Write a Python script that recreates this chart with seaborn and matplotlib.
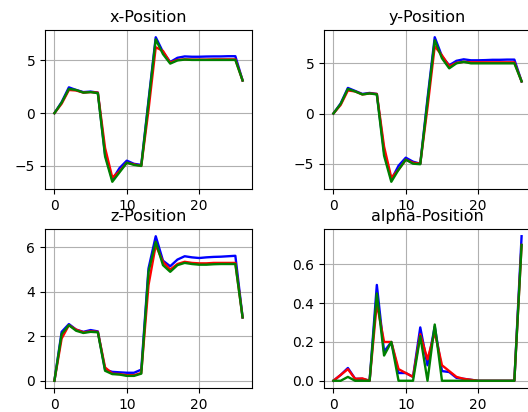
import numpy as np
import pandas as pd
import matplotlib
matplotlib.use("Agg")
import matplotlib.pyplot as plt
import seaborn as sns

frames = list(range(27))

# x-Position
x_blue = [0.0, 1.05, 2.45, 2.2, 2.0, 2.05, 1.95, -3.9, -6.3, -5.2, -4.5, -4.8, -4.9, 1.2, 7.2, 5.8, 4.85, 5.25, 5.38, 5.35, 5.35, 5.37, 5.38, 5.38, 5.4, 5.4, 3.1]
x_red = [0.0, 0.9, 2.2, 2.15, 1.95, 2.0, 1.95, -3.3, -6.1, -5.5, -4.7, -4.85, -5.0, 0.3, 6.25, 5.9, 4.8, 5.05, 5.1, 5.08, 5.08, 5.08, 5.1, 5.1, 5.1, 5.1, 3.1]
x_green = [0.0, 1.0, 2.3, 2.2, 1.95, 2.0, 1.9, -4.1, -6.5, -5.6, -4.7, -4.9, -5.0, 1.0, 7.0, 5.6, 4.7, 5.0, 5.08, 5.05, 5.05, 5.05, 5.05, 5.05, 5.05, 5.05, 3.1]

# y-Position
y_blue = [0.0, 1.0, 2.55, 2.25, 1.95, 2.05, 1.95, -3.8, -6.6, -5.2, -4.4, -4.8, -5.0, 1.5, 7.6, 5.7, 4.8, 5.25, 5.4, 5.3, 5.3, 5.32, 5.35, 5.35, 5.37, 5.37, 3.2]
y_red = [0.0, 0.85, 2.3, 2.2, 1.9, 2.0, 1.95, -3.3, -6.4, -5.6, -4.6, -4.9, -5.0, 0.6, 6.7, 5.8, 4.7, 5.05, 5.15, 5.1, 5.1, 5.1, 5.1, 5.1, 5.1, 5.1, 3.2]
y_green = [0.0, 0.95, 2.45, 2.2, 1.9, 2.0, 1.9, -4.2, -6.8, -5.6, -4.6, -5.0, -5.05, 1.2, 7.3, 5.5, 4.5, 5.0, 5.15, 5.0, 5.0, 5.0, 5.0, 5.0, 5.0, 5.0, 3.2]

# z-Position
z_blue = [0.0, 2.2, 2.55, 2.3, 2.2, 2.28, 2.22, 0.5, 0.4, 0.38, 0.36, 0.36, 0.5, 5.05, 6.5, 5.4, 5.15, 5.45, 5.6, 5.55, 5.52, 5.55, 5.57, 5.58, 5.6, 5.62, 2.85]
z_red = [0.0, 1.9, 2.5, 2.3, 2.18, 2.22, 2.2, 0.6, 0.32, 0.3, 0.25, 0.25, 0.35, 4.3, 6.1, 5.35, 5.0, 5.25, 5.35, 5.3, 5.28, 5.28, 5.3, 5.3, 5.3, 5.3, 2.85]
z_green = [0.0, 2.1, 2.5, 2.25, 2.15, 2.2, 2.18, 0.45, 0.3, 0.28, 0.22, 0.22, 0.32, 4.9, 6.25, 5.2, 4.9, 5.2, 5.3, 5.25, 5.22, 5.22, 5.24, 5.25, 5.25, 5.25, 2.85]

# alpha-Position
a_blue = [0.0, 0.03, 0.066, 0.01, 0.01, 0.0, 0.494, 0.15, 0.2, 0.04, 0.04, 0.02, 0.275, 0.08, 0.28, 0.05, 0.045, 0.015, 0.01, 0.005, 0.0, 0.0, 0.0, 0.0, 0.0, 0.0, 0.745]
a_red = [0.0, 0.03, 0.06, 0.01, 0.012, 0.0, 0.4, 0.2, 0.2, 0.06, 0.04, 0.02, 0.24, 0.11, 0.25, 0.08, 0.05, 0.02, 0.01, 0.005, 0.0, 0.0, 0.0, 0.0, 0.0, 0.0, 0.7]
a_green = [0.0, 0.0, 0.02, 0.0, 0.0, 0.0, 0.45, 0.13, 0.2, 0.0, 0.0, 0.0, 0.23, 0.0, 0.29, 0.0, 0.0, 0.0, 0.0, 0.0, 0.0, 0.0, 0.0, 0.0, 0.0, 0.0, 0.7]

titles = ["x-Position", "y-Position", "z-Position", "alpha-Position"]
panels = [
    (x_blue, x_red, x_green),
    (y_blue, y_red, y_green),
    (z_blue, z_red, z_green),
    (a_blue, a_red, a_green),
]
colors = ["blue", "red", "green"]

W, H = 528, 412
fig = plt.figure(figsize=(W / 100, H / 100), dpi=100)

# axes rectangles in pixels: left, top, width, height
rects = [(45, 30, 207, 159), (324, 30, 207, 159), (45, 229, 207, 159), (324, 229, 207, 159)]

for title, series, (l, t, w, h) in zip(titles, panels, rects):
    ax = fig.add_axes([l / W, 1 - (t + h) / H, w / W, h / H])
    for vals, c in zip(series, colors):
        sns.lineplot(x=frames, y=vals, color=c, linewidth=1.7, ax=ax)
    ax.set_title(title, fontsize=11.5, pad=5.5)
    ax.grid(True, color="#b0b0b0", linewidth=0.8)
    ax.set_xticks([0, 10, 20])
    ax.tick_params(labelsize=10)
    ax.set_xlabel("")
    ax.set_ylabel("")

fig.savefig("out.png", dpi=100)
